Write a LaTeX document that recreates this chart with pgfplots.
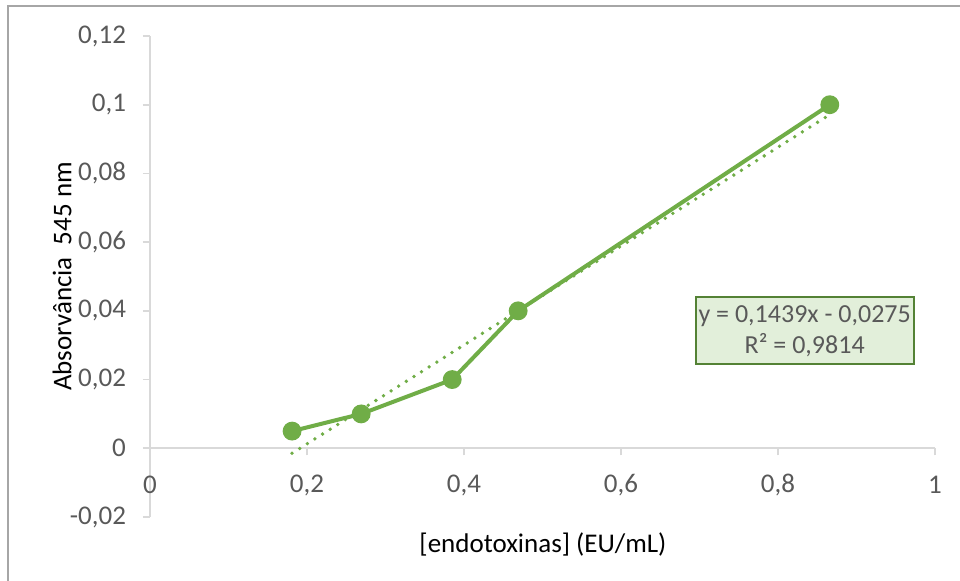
\documentclass[border=0pt]{standalone}
\usepackage{pgfplots}
\pgfplotsset{compat=1.18}
\usepackage{fontspec}
\setmainfont{Carlito}
\definecolor{xgreen}{HTML}{70AD47}
\definecolor{boxfill}{HTML}{E2EFDA}
\definecolor{boxdraw}{HTML}{548235}
\definecolor{txtgray}{HTML}{595959}
\definecolor{axgray}{HTML}{D9D9D9}
\definecolor{frame}{HTML}{A6A6A6}
\begin{document}
\begin{tikzpicture}
\useasboundingbox (-75pt,-32pt) rectangle (405pt,258.5pt);
\draw[frame, line width=1pt] (-70.75pt,-40pt) -- (-70.75pt,255.25pt) -- (420pt,255.25pt);
\begin{axis}[
  scale only axis,
  width=392.5pt, height=240.5pt,
  xmin=0, xmax=1, ymin=-0.02, ymax=0.12,
  axis y line=left, axis x line=middle,
  hide obscured x ticks=false,
  axis line style={axgray, line width=0.8pt, -},
  every tick/.style={axgray, line width=0.8pt},
  major tick length=3.5pt,
  tick align=outside,
  font=\fontsize{13.5}{16}\selectfont,
  xtick={0,0.2,0.4,0.6,0.8,1},
  xticklabels={{0},{0,2},{0,4},{0,6},{0,8},{1}},
  ytick={-0.02,0,0.02,0.04,0.06,0.08,0.1,0.12},
  yticklabels={{-0,02},{0},{0,02},{0,04},{0,06},{0,08},{0,1},{0,12}},
  xticklabel style={anchor=center, yshift=-15pt, text=txtgray},
  yticklabel style={anchor=east, xshift=-5pt, text=txtgray},
  xlabel={[endotoxinas] (EU/mL)},
  ylabel={Absorvância\ \ 545 nm},
  xlabel style={at={(axis description cs:0.5006,-0.058)}, anchor=center},
  ylabel style={at={(axis description cs:-0.112,0.5)}, anchor=center},
  clip=false,
]
\addplot[xgreen, line width=1.9pt, line cap=round, dash pattern=on 0pt off 4.5pt]
  coordinates {(0.181,-0.00145) (0.866,0.09712)};
\addplot[xgreen, line width=2pt, mark=*, mark size=3.7pt, mark options={solid, fill=xgreen, draw=xgreen}]
  coordinates {(0.181,0.005) (0.269,0.010) (0.385,0.020) (0.469,0.040) (0.866,0.100)};
\node[draw=boxdraw, line width=1pt, fill=boxfill, text=txtgray, align=center,
      minimum width=107.5pt, minimum height=33.5pt, inner sep=1.5pt,
      font=\fontsize{13}{15.5}\selectfont]
  at (axis cs:0.834,0.0342) {y = 0,1439x - 0,0275\\R² = 0,9814};
\end{axis}
\end{tikzpicture}
\end{document}
